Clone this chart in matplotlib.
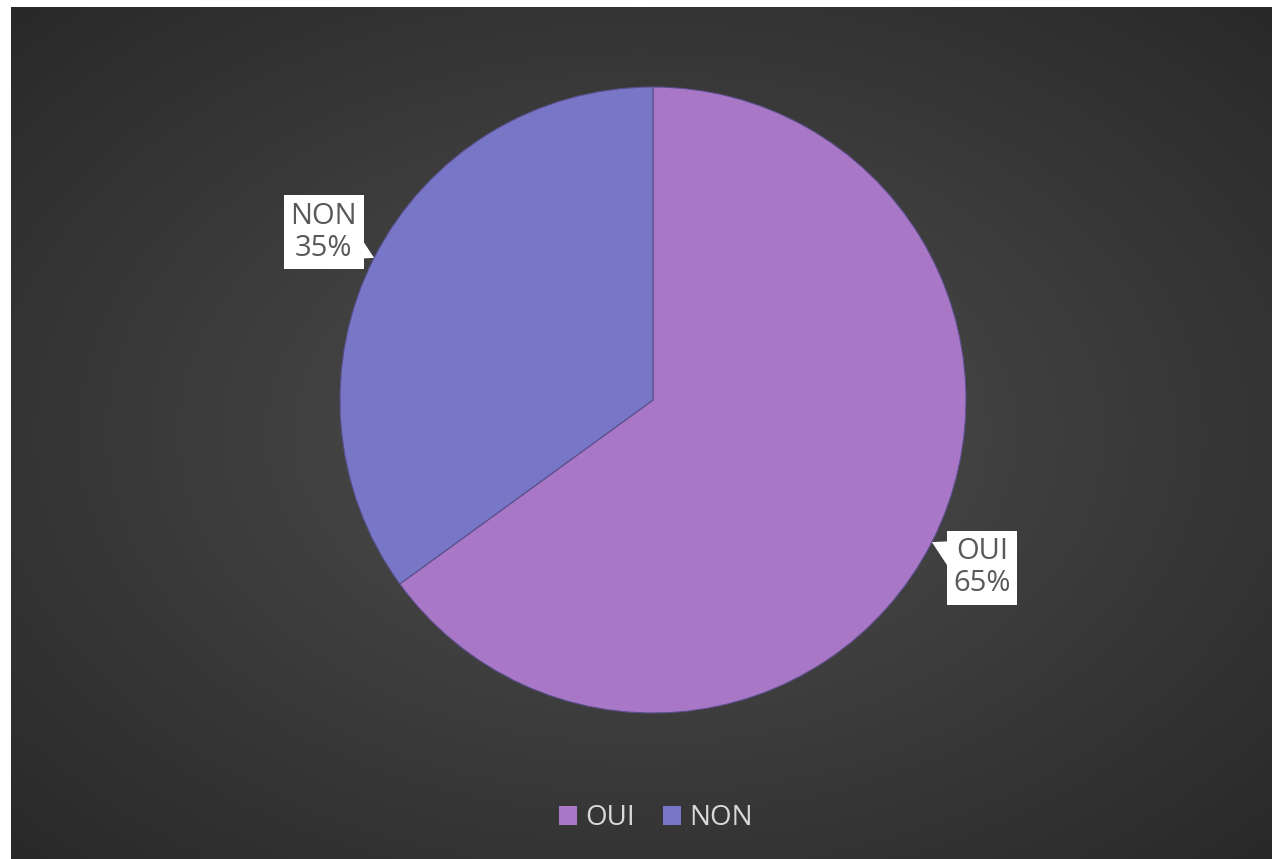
import numpy as np
import matplotlib.pyplot as plt
from matplotlib.patches import Patch

plt.rcParams['font.family'] = ['Open Sans', 'DejaVu Sans']

labels = ['OUI', 'NON']
values = [65, 35]
colors = ['#a877c6', '#7876c6']

W, H = 1274, 859
fig = plt.figure(figsize=(W / 100, H / 100), dpi=100)
fig.patch.set_facecolor('white')

# dark radial gradient background
bg = fig.add_axes([11 / W, 0, (W - 13) / W, (H - 7) / H])
yy, xx = np.mgrid[-1:1:300j, -1:1:400j]
rr = np.sqrt(xx ** 2 + yy ** 2) / np.sqrt(2)
shade = 0.31 - 0.15 * rr
bg.imshow(np.dstack([shade] * 3), aspect='auto', extent=[0, 1, 0, 1], interpolation='bilinear')
bg.axis('off')

# pie
cx, cy, r = 653, 400, 313
ax = fig.add_axes([(cx - r) / W, (H - cy - r) / H, 2 * r / W, 2 * r / H])
wedges, _ = ax.pie(values, colors=colors, startangle=90, counterclock=False, radius=1,
                   wedgeprops=dict(edgecolor='#5a4f8a', linewidth=0.8))
ax.set_xlim(-1, 1)
ax.set_ylim(-1, 1)
ax.set_aspect('equal')
ax.axis('off')

for w, lab, v in zip(wedges, labels, values):
    ang = np.deg2rad((w.theta1 + w.theta2) / 2)
    tip = (np.cos(ang), np.sin(ang))
    txt = (1.18 * np.cos(ang), 1.18 * np.sin(ang))
    ax.annotate(f'{lab}\n{v}%', xy=tip, xytext=txt, ha='center', va='center',
                fontsize=21, color='#595959', linespacing=1.15, annotation_clip=False,
                bbox=dict(boxstyle='square,pad=0.22', fc='white', ec='none'),
                arrowprops=dict(arrowstyle='wedge,tail_width=2.2,shrink_factor=0.5',
                                fc='white', ec='none', patchA=None,
                                shrinkA=0, shrinkB=0))

handles = [Patch(facecolor=c, edgecolor='none') for c in colors]
leg = fig.legend(handles, labels, loc='center', bbox_to_anchor=(656 / W, 1 - 818 / H),
                 ncol=2, frameon=False, fontsize=20, handlelength=0.65, handleheight=0.65,
                 handletextpad=0.3, columnspacing=1.0)
for t in leg.get_texts():
    t.set_color('#d9d9d9')

fig.savefig('out.png', dpi=100, facecolor=fig.get_facecolor())
